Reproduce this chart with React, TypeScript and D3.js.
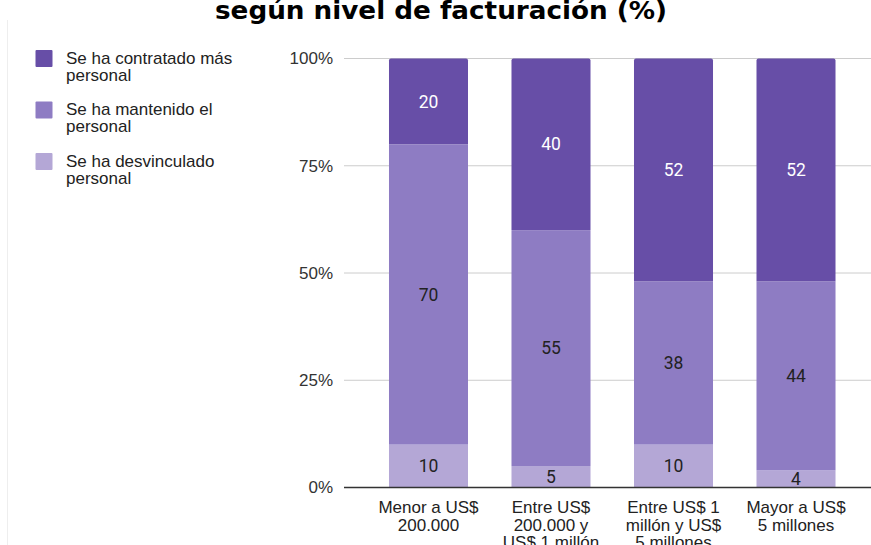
import React from "react";
import * as d3 from "d3";

const categories = [
  ["Menor a US$", "200.000"],
  ["Entre US$", "200.000 y", "US$ 1 millón"],
  ["Entre US$ 1", "millón y US$", "5 millones"],
  ["Mayor a US$", "5 millones"],
];
const seriesNames = [
  ["Se ha contratado más", "personal"],
  ["Se ha mantenido el", "personal"],
  ["Se ha desvinculado", "personal"],
];
const desvinculado = [10, 5, 10, 4];
const mantenido = [70, 55, 38, 44];
const contratado = [20, 40, 52, 52];
const yTicks = [0, 25, 50, 75, 100];
const colors = ["#674ea7", "#8e7cc3", "#b4a7d6"];
const labelColors = ["#ffffff", "#222222", "#222222"];

export default function App() {
  const W = 871, H = 545;
  const y = d3.scaleLinear().domain([0, 100]).range([487.5, 58.5]);
  const keys = categories.map((_, i) => String(i));
  const x = d3.scaleBand().domain(keys).range([345.5, 879]).paddingInner(0.355).paddingOuter(0.355);
  const bw = x.bandwidth();

  const rows = keys.map((k, i) => ({ k, d: desvinculado[i], m: mantenido[i], c: contratado[i] }));
  const stack = d3.stack<any>().keys(["d", "m", "c"])(rows);
  const colorFor: Record<string, number> = { c: 0, m: 1, d: 2 };

  const topPath = (x0: number, y0: number, x1: number, y1: number, r: number) =>
    `M${x0},${y1}V${y0 + r}Q${x0},${y0} ${x0 + r},${y0}H${x1 - r}Q${x1},${y0} ${x1},${y0 + r}V${y1}Z`;

  const font = "'Liberation Sans', Arial, sans-serif";

  return (
    <svg width={W} height={H} style={{ position: "absolute", left: 0, top: 0, background: "#fff" }}>
      <rect x={0} y={0} width={W} height={H} fill="#fff" />
      <line x1={7.5} x2={7.5} y1={20} y2={H} stroke="#eeeeee" strokeWidth={1} />
      <text x={441} y={19} textAnchor="middle" fontFamily="'DejaVu Sans', sans-serif" fontWeight="bold" fontSize={24}
        textLength={452} lengthAdjust="spacingAndGlyphs" fill="#000">según nivel de facturación (%)</text>

      {seriesNames.map((lines, i) => (
        <g key={i} transform={`translate(0, ${i * 51.5})`}>
          <rect x={35.5} y={50} width={17} height={17} rx={1} fill={colors[i]} />
          {lines.map((l, j) => (
            <text key={j} x={66} y={63.5 + j * 17} fontFamily={font} fontSize={17} fill="#222">{l}</text>
          ))}
        </g>
      ))}

      {yTicks.filter((t) => t > 0).map((t) => (
        <line key={t} x1={344} x2={871} y1={y(t)} y2={y(t)} stroke="#cccccc" strokeWidth={1} />
      ))}
      {yTicks.map((t) => (
        <text key={"l" + t} x={333} y={y(t)} dy="0.35em" textAnchor="end" fontFamily={font}
          fontSize={17} fill="#333">{t + "%"}</text>
      ))}

      {stack.map((s) => (
        <g key={s.key}>
          {s.map((p, i) => {
            const x0 = x(p.data.k)!;
            const y0 = y(p[1]), y1 = y(p[0]);
            const ci = colorFor[s.key];
            const isTop = s.key === "c";
            return (
              <g key={i}>
                {isTop ? (
                  <path d={topPath(x0, y0, x0 + bw, y1, 2)} fill={colors[ci]} />
                ) : (
                  <rect x={x0} y={y0} width={bw} height={y1 - y0} fill={colors[ci]} />
                )}
                <text x={x0 + bw / 2} y={(y0 + y1) / 2} dy="0.35em" textAnchor="middle"
                  fontFamily="Roboto, sans-serif" fontSize={17.5} fill={labelColors[ci]}>{p[1] - p[0]}</text>
              </g>
            );
          })}
        </g>
      ))}

      <line x1={344} x2={871} y1={y(0)} y2={y(0)} stroke="#333" strokeWidth={1.5} />

      {categories.map((lines, i) => (
        <g key={i}>
          {lines.map((l, j) => (
            <text key={j} x={x(keys[i])! + bw / 2} y={513 + j * 17.5} textAnchor="middle"
              fontFamily={font} fontSize={17} fill="#222">{l}</text>
          ))}
        </g>
      ))}
    </svg>
  );
}
